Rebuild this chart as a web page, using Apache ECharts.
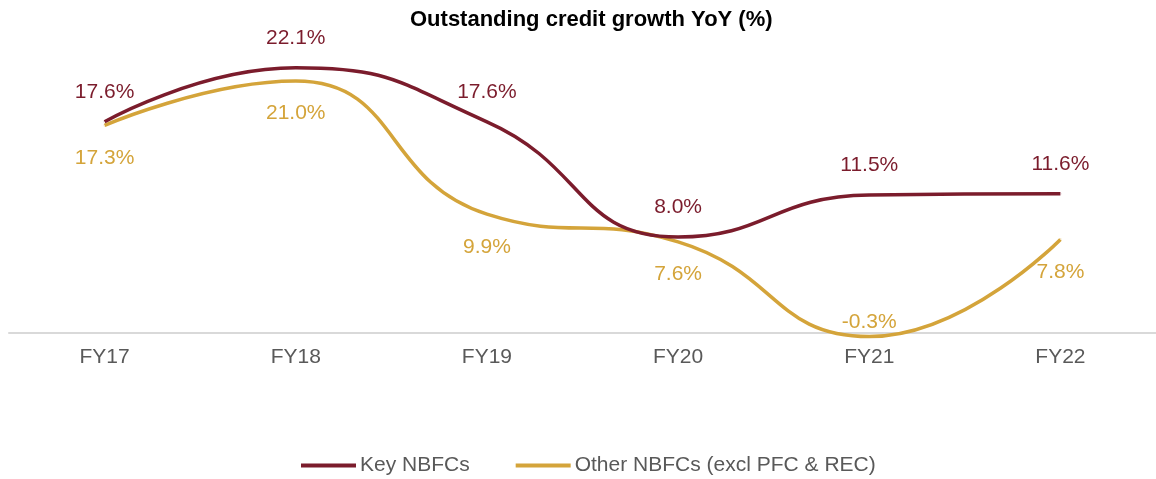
<!DOCTYPE html>
<html>
<head>
<meta charset="utf-8">
<script src="https://cdn.jsdelivr.net/npm/echarts@6/dist/echarts.min.js"></script>
<style>
  html, body { margin: 0; padding: 0; background: #fff; }
  #chart { width: 1156px; height: 479px; }
</style>
</head>
<body>
<div id="chart"></div>
<script>
  let years = ['FY17', 'FY18', 'FY19', 'FY20', 'FY21', 'FY22']
  let keyNbfc = [17.6, 22.1, 17.6, 8.0, 11.5, 11.6]
  let otherNbfc = [17.3, 21.0, 9.9, 7.6, -0.3, 7.8]
  // which labels of the gold line sit above the point
  let otherAbove = [false, false, false, false, true, false]

  let chart = echarts.init(document.getElementById('chart'))
  let fmt = function (p) { return p.value.toFixed(1) + '%' }

  let option = {
    animation: false,
    title: {
      text: 'Outstanding credit growth YoY (%)',
      left: 405,
      top: 4,
      textStyle: { fontFamily: 'Liberation Sans', fontSize: 22, fontWeight: 'bold', color: '#000' }
    },
    legend: {
      bottom: -2,
      left: 296,
      itemWidth: 55,
      itemHeight: 4,
      itemGap: 46,
      icon: 'rect',
      textStyle: { fontFamily: 'Liberation Sans', fontSize: 21, color: '#595959', padding: [0, 0, 0, -1] },
      data: ['Key NBFCs', 'Other NBFCs (excl PFC & REC)']
    },
    grid: { left: 9, width: 1156, top: 45, height: 288 },
    xAxis: {
      type: 'category',
      data: years,
      boundaryGap: true,
      axisLine: { onZero: false, lineStyle: { color: '#d9d9d9', width: 2 } },
      axisTick: { show: false },
      axisLabel: { fontFamily: 'Liberation Sans', fontSize: 21, color: '#595959', margin: 14 }
    },
    yAxis: {
      type: 'value',
      min: 0,
      max: 24,
      show: false,
      splitLine: { show: false }
    },
    series: [
      {
        name: 'Key NBFCs',
        type: 'line',
        data: keyNbfc,
        smooth: 0.5,
        clip: false,
        showSymbol: true,
        symbolSize: 0.1,
        color: '#7b1c2c',
        lineStyle: { width: 3.5, color: '#7b1c2c' },
        label: {
          show: true,
          position: 'top',
          distance: 18,
          formatter: fmt,
          fontFamily: 'Liberation Sans',
          fontSize: 21,
          color: '#7b1c2c'
        },
        z: 3
      },
      {
        name: 'Other NBFCs (excl PFC & REC)',
        type: 'line',
        data: otherNbfc.map(function (v, i) {
          return {
            value: v,
            label: otherAbove[i] ? { position: 'top', distance: 3 } : { position: 'bottom', distance: 21 }
          }
        }),
        smooth: 0.5,
        clip: false,
        showSymbol: true,
        symbolSize: 0.1,
        color: '#d4a43a',
        lineStyle: { width: 3.5, color: '#d4a43a' },
        label: {
          show: true,
          formatter: fmt,
          fontFamily: 'Liberation Sans',
          fontSize: 21,
          color: '#d4a43a'
        },
        z: 2
      }
    ]
  }
  chart.setOption(option)
</script>
</body>
</html>
